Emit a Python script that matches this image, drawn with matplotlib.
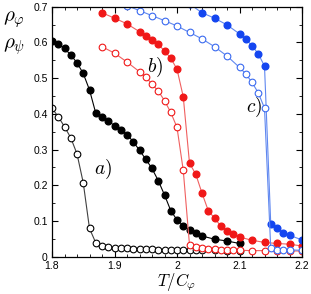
import matplotlib
matplotlib.use("Agg")
import matplotlib.pyplot as plt
from matplotlib.ticker import MultipleLocator, FixedLocator, FixedFormatter

plt.rcParams['mathtext.fontset'] = 'cm'
plt.rcParams['font.family'] = ['Liberation Sans', 'DejaVu Sans']

# a) filled (black)
a_fill_x = [1.80, 1.81, 1.82, 1.83, 1.84, 1.85, 1.86, 1.87, 1.88, 1.89, 1.90, 1.91, 1.92,
            1.93, 1.94, 1.95, 1.96, 1.97, 1.98, 1.99, 2.00, 2.01, 2.02, 2.03, 2.04, 2.06, 2.08, 2.10]
a_fill_y = [0.605, 0.595, 0.583, 0.565, 0.543, 0.513, 0.467, 0.402, 0.390, 0.380, 0.367, 0.355, 0.342,
            0.322, 0.298, 0.273, 0.247, 0.213, 0.173, 0.129, 0.103, 0.087, 0.075, 0.066, 0.058, 0.049, 0.044, 0.037]
# a) open (black)
a_open_x = [1.80, 1.81, 1.82, 1.83, 1.84, 1.85, 1.86, 1.87, 1.88, 1.89, 1.90, 1.91, 1.92, 1.93,
            1.94, 1.95, 1.96, 1.97, 1.98, 1.99, 2.00, 2.01, 2.02, 2.03, 2.04, 2.06, 2.08, 2.10]
a_open_y = [0.416, 0.392, 0.364, 0.333, 0.288, 0.207, 0.079, 0.039, 0.030, 0.027, 0.025, 0.024, 0.023, 0.022,
            0.022, 0.021, 0.021, 0.020, 0.020, 0.020, 0.019, 0.019, 0.019, 0.019, 0.018, 0.018, 0.017, 0.017]

# b) filled (red)
b_fill_x = [1.88, 1.90, 1.92, 1.94, 1.95, 1.96, 1.97, 1.98, 1.99, 2.00, 2.01, 2.02, 2.03, 2.04,
            2.05, 2.06, 2.07, 2.08, 2.09, 2.10, 2.12, 2.14, 2.16, 2.18, 2.20]
b_fill_y = [0.683, 0.668, 0.652, 0.630, 0.619, 0.607, 0.595, 0.576, 0.556, 0.525, 0.448, 0.262, 0.231, 0.178,
            0.129, 0.108, 0.086, 0.073, 0.064, 0.055, 0.046, 0.040, 0.037, 0.035, 0.030]
# b) open (red)
b_open_x = [1.88, 1.90, 1.92, 1.94, 1.95, 1.96, 1.97, 1.98, 1.99, 2.00, 2.01, 2.02, 2.03, 2.04,
            2.05, 2.06, 2.07, 2.08, 2.09, 2.10, 2.12, 2.14, 2.16, 2.18, 2.20]
b_open_y = [0.588, 0.570, 0.545, 0.518, 0.503, 0.483, 0.464, 0.437, 0.404, 0.362, 0.242, 0.033, 0.027, 0.024,
            0.022, 0.021, 0.020, 0.019, 0.019, 0.018, 0.017, 0.017, 0.017, 0.016, 0.016]

# c) filled (blue)
c_fill_x = [2.02, 2.04, 2.06, 2.08, 2.10, 2.11, 2.12, 2.13, 2.14, 2.15, 2.16, 2.17, 2.18, 2.20]
c_fill_y = [0.708, 0.683, 0.668, 0.649, 0.624, 0.609, 0.591, 0.568, 0.534, 0.092, 0.079, 0.067, 0.060, 0.047]
# c) open (blue)
c_open_x = [1.92, 1.94, 1.96, 1.98, 2.00, 2.02, 2.04, 2.06, 2.08, 2.10, 2.11, 2.12, 2.13, 2.14,
            2.15, 2.16, 2.17, 2.18, 2.20]
c_open_y = [0.703, 0.689, 0.675, 0.661, 0.646, 0.628, 0.610, 0.588, 0.562, 0.530, 0.512, 0.488, 0.459, 0.416,
            0.023, 0.020, 0.020, 0.019, 0.018]

x_ticks = [1.8, 1.9, 2.0, 2.1, 2.2]
x_tick_labels = ['1.8', '1.9', '2', '2.1', '2.2']
y_ticks = [0, 0.1, 0.2, 0.3, 0.4, 0.5, 0.6, 0.7]
y_tick_labels = ['0', '0.1', '0.2', '0.3', '0.4', '0.5', '0.6', '0.7']

fig = plt.figure(figsize=(3.11, 2.94), dpi=100)
ax = fig.add_axes([52/311, 1-256.7/294, 250/311, 250/294])

ms = 4.8
lw = 0.8
black = '#000000'
red = '#f01818'
red_line = '#f06060'
blue = '#1446f0'
blue_open = '#3a6af0'
blue_line = '#6088f0'

ax.plot(a_fill_x, a_fill_y, '-o', color=black, lw=lw, ms=ms, mfc=black, mec=black)
ax.plot(a_open_x, a_open_y, '-o', color='#404040', lw=lw, ms=ms, mfc='white', mec=black, mew=0.8)
ax.plot(b_fill_x, b_fill_y, '-o', color=red_line, lw=lw, ms=ms, mfc=red, mec=red)
ax.plot(b_open_x, b_open_y, '-o', color=red_line, lw=lw, ms=ms, mfc='white', mec=red, mew=0.8)
ax.plot(c_fill_x, c_fill_y, '-o', color=blue_line, lw=lw, ms=ms, mfc=blue, mec=blue)
ax.plot(c_open_x, c_open_y, '-o', color=blue_line, lw=lw, ms=ms, mfc='white', mec=blue_open, mew=0.8)

ax.set_xlim(1.8, 2.2)
ax.set_ylim(0, 0.7)
ax.xaxis.set_major_locator(FixedLocator(x_ticks))
ax.xaxis.set_major_formatter(FixedFormatter(x_tick_labels))
ax.yaxis.set_major_locator(FixedLocator(y_ticks))
ax.yaxis.set_major_formatter(FixedFormatter(y_tick_labels))
ax.xaxis.set_minor_locator(MultipleLocator(0.02))
ax.yaxis.set_minor_locator(MultipleLocator(0.05))
ax.tick_params(which='both', direction='in', top=True, right=True, labelsize=7.5, pad=3)
ax.tick_params(which='major', length=4, width=0.8)
ax.tick_params(which='minor', length=2.5, width=0.6)
for s in ax.spines.values():
    s.set_linewidth(0.9)

ax.text(1.882, 0.243, r'$a)$', fontsize=14, ha='center', va='center')
ax.text(1.965, 0.529, r'$b)$', fontsize=14, ha='center', va='center')
ax.text(2.123, 0.417, r'$c)$', fontsize=14, ha='center', va='center')

fig.text(14/311, 1-20/294, r'$\rho_\varphi$', fontsize=15, ha='center', va='center')
fig.text(14/311, 1-47/294, r'$\rho_\psi$', fontsize=15, ha='center', va='center')
ax.set_xlabel(r'$T/C_\varphi$', fontsize=12, labelpad=0)

fig.savefig('out.png', dpi=100)
